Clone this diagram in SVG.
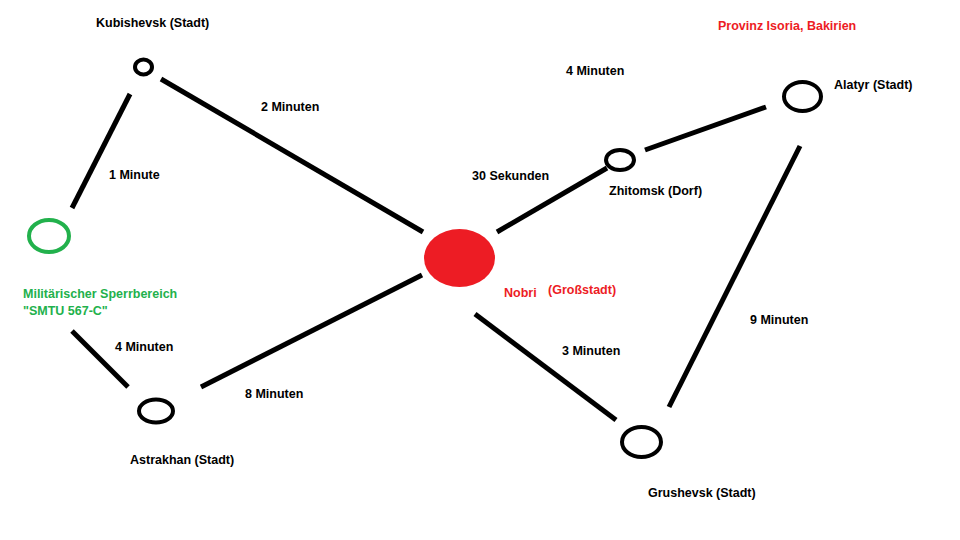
<svg xmlns="http://www.w3.org/2000/svg" width="960" height="540" viewBox="0 0 960 540">
<style>
text{font-family:"Liberation Sans",Arial,sans-serif;font-weight:bold;font-size:12.5px;fill:#000}
.g{fill:#22b14c}
.r{fill:#ed1c24}
.node{fill:none;stroke:#000;stroke-width:4}
.edge{stroke:#000;stroke-width:5;fill:none}
</style>
<rect width="960" height="540" fill="#fff"/>
<g id="connectors">
<line class="edge" x1="130" y1="94" x2="72" y2="208"/>
<line class="edge" x1="161" y1="79" x2="423" y2="232"/>
<line class="edge" x1="72" y1="331" x2="128" y2="387"/>
<line class="edge" x1="201" y1="387" x2="422" y2="275"/>
<line class="edge" x1="497" y1="232" x2="607" y2="168"/>
<line class="edge" x1="645" y1="150" x2="766" y2="107"/>
<line class="edge" x1="800" y1="146" x2="669" y2="407"/>
<line class="edge" x1="475" y1="314" x2="616" y2="420"/>
<text x="109" y="179">1 Minute</text>
<text x="261" y="111">2 Minuten</text>
<text x="115" y="351">4 Minuten</text>
<text x="245" y="398">8 Minuten</text>
<text x="472" y="180">30 Sekunden</text>
<text x="566" y="75">4 Minuten</text>
<text x="562" y="355">3 Minuten</text>
<text x="750" y="324">9 Minuten</text>
</g>
<g id="kubishevsk">
<ellipse class="node" cx="143.5" cy="67" rx="8.5" ry="7.5"/>
<text x="96" y="27">Kubishevsk (Stadt)</text>
</g>
<g id="sperrbereich">
<ellipse cx="49" cy="236" rx="20" ry="16" fill="none" stroke="#22b14c" stroke-width="4"/>
<text class="g" x="23" y="298">Militärischer Sperrbereich</text>
<text class="g" x="23" y="315">"SMTU 567-C"</text>
</g>
<g id="astrakhan">
<ellipse class="node" cx="156" cy="411" rx="17" ry="11.5"/>
<text x="130" y="464">Astrakhan (Stadt)</text>
</g>
<g id="nobri">
<ellipse cx="459.5" cy="258" rx="35.5" ry="29" fill="#ed1c24"/>
<text class="r" x="504" y="297">Nobri</text>
<text class="r" x="548" y="294">(Großstadt)</text>
</g>
<g id="zhitomsk">
<ellipse class="node" cx="620" cy="160" rx="14" ry="10"/>
<text x="609" y="195">Zhitomsk (Dorf)</text>
</g>
<g id="alatyr">
<ellipse class="node" cx="802.5" cy="96.5" rx="18.5" ry="14.5"/>
<text x="834" y="89">Alatyr (Stadt)</text>
</g>
<g id="grushevsk">
<ellipse class="node" cx="641.5" cy="442" rx="19.5" ry="15"/>
<text x="648" y="497">Grushevsk (Stadt)</text>
</g>
<g id="title">
<text class="r" x="718" y="30">Provinz Isoria, Bakirien</text>
</g>
</svg>
